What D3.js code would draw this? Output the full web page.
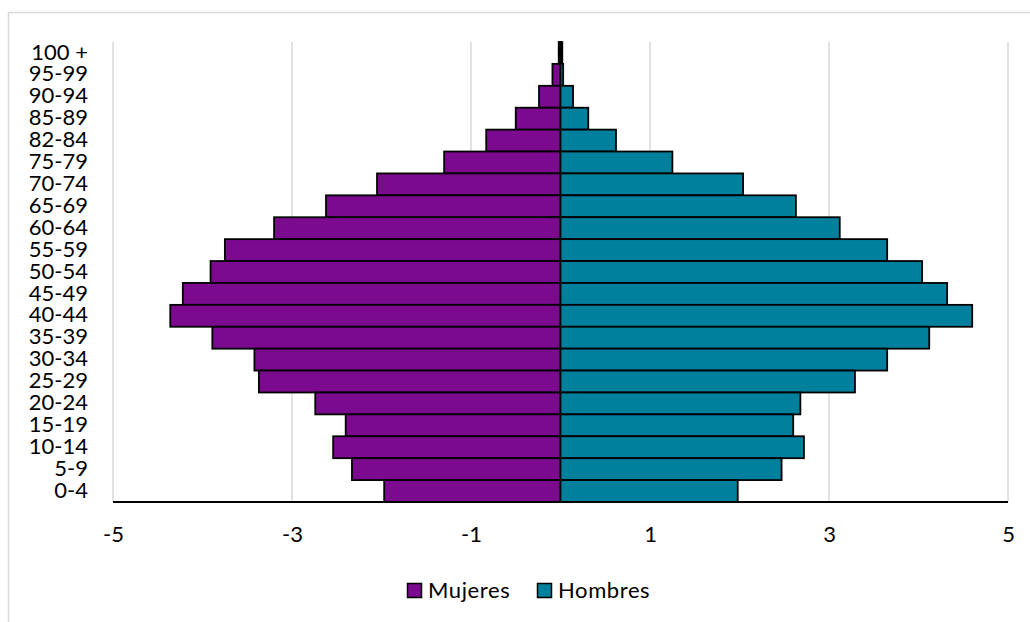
<!DOCTYPE html>
<html>
<head>
<meta charset="utf-8">
<script src="https://cdn.jsdelivr.net/npm/d3@7"></script>
<style>
  html, body { margin: 0; padding: 0; background: #fff; }
  svg { display: block; font-family: Lato, "Noto Sans", sans-serif; }
</style>
</head>
<body>
<svg id="chart" width="1030" height="622"></svg>
<script>
const categories = ["100 +","95-99","90-94","85-89","82-84","75-79","70-74","65-69","60-64","55-59","50-54","45-49","40-44","35-39","30-34","25-29","20-24","15-19","10-14","5-9","0-4"];
const mujeres = [-0.02,-0.09,-0.24,-0.50,-0.83,-1.30,-2.05,-2.62,-3.20,-3.75,-3.91,-4.22,-4.36,-3.89,-3.42,-3.37,-2.74,-2.40,-2.54,-2.33,-1.97];
const hombres = [0.02,0.03,0.14,0.31,0.62,1.25,2.04,2.63,3.12,3.65,4.04,4.32,4.60,4.12,3.65,3.29,2.68,2.60,2.72,2.47,1.98];
const xTicks = [-5,-3,-1,1,3,5];
const seriesNames = ["Mujeres","Hombres"];
const colors = ["#7b0a8f","#00809d"];

(function(){
const FONT = "Lato, 'Noto Sans', sans-serif";
const FS = 22;
const svg = d3.select("#chart");

// outer frame
svg.append("path")
  .attr("d","M8.5,622 V12.5 H1030")
  .attr("fill","none").attr("stroke","#d9d9d9").attr("stroke-width",1.5);

const pL = 113, pR = 1008, pT = 42, pB = 502;
const x = d3.scaleLinear().domain([-5,5]).range([pL,pR]);
const y = d3.scaleBand().domain(categories).range([pT,pB]).padding(0);

// gridlines
svg.append("g").selectAll("line").data(xTicks).join("line")
  .attr("x1",d=>x(d)).attr("x2",d=>x(d))
  .attr("y1",pT).attr("y2",pB)
  .attr("stroke","#d9d9d9").attr("stroke-width",1.5);

// bars
const series = [mujeres, hombres];
series.forEach((vals,si)=>{
  svg.append("g").selectAll("rect").data(vals).join("rect")
    .attr("x",d=>x(Math.min(0,d)))
    .attr("width",d=>Math.abs(x(d)-x(0)))
    .attr("y",(d,i)=>y(categories[i]))
    .attr("height",y.bandwidth())
    .attr("fill",colors[si])
    .attr("stroke","#000").attr("stroke-width",1.8);
});

// x axis line
svg.append("line")
  .attr("x1",pL).attr("x2",pR).attr("y1",pB).attr("y2",pB)
  .attr("stroke","#000").attr("stroke-width",2);

// x tick labels
const xAxis = d3.axisBottom(x).tickValues(xTicks).tickSize(0).tickPadding(0).tickFormat(d => String(d));
const gx = svg.append("g").attr("transform",`translate(0,${pB})`).call(xAxis);
gx.select(".domain").remove();
gx.selectAll("text")
  .attr("y",32).attr("dy","0.35em")
  .attr("font-size",FS).attr("font-family",FONT)
  .attr("fill","#000");

// y labels
const yAxis = d3.axisLeft(y).tickSize(0).tickPadding(0);
const gy = svg.append("g").attr("transform","translate(88,0)").call(yAxis);
gy.select(".domain").remove();
gy.selectAll("text")
  .attr("dy","0.3em")
  .attr("font-size",FS).attr("font-family",FONT)
  .attr("fill","#000");

// legend
const legend = svg.append("g");
const legendItems = [{name:seriesNames[0],color:colors[0],x:407},{name:seriesNames[1],color:colors[1],x:537}];
legendItems.forEach(it=>{
  legend.append("rect").attr("x",it.x+0.5).attr("y",583.5).attr("width",14).attr("height",14)
    .attr("fill",it.color).attr("stroke","#000").attr("stroke-width",1.5);
  legend.append("text").attr("x",it.x+21).attr("y",590).attr("dy","0.35em")
    .attr("font-size",FS).attr("font-family",FONT).attr("letter-spacing",0.6)
    .attr("fill","#000").text(it.name);
});
})();
</script>
</body>
</html>
